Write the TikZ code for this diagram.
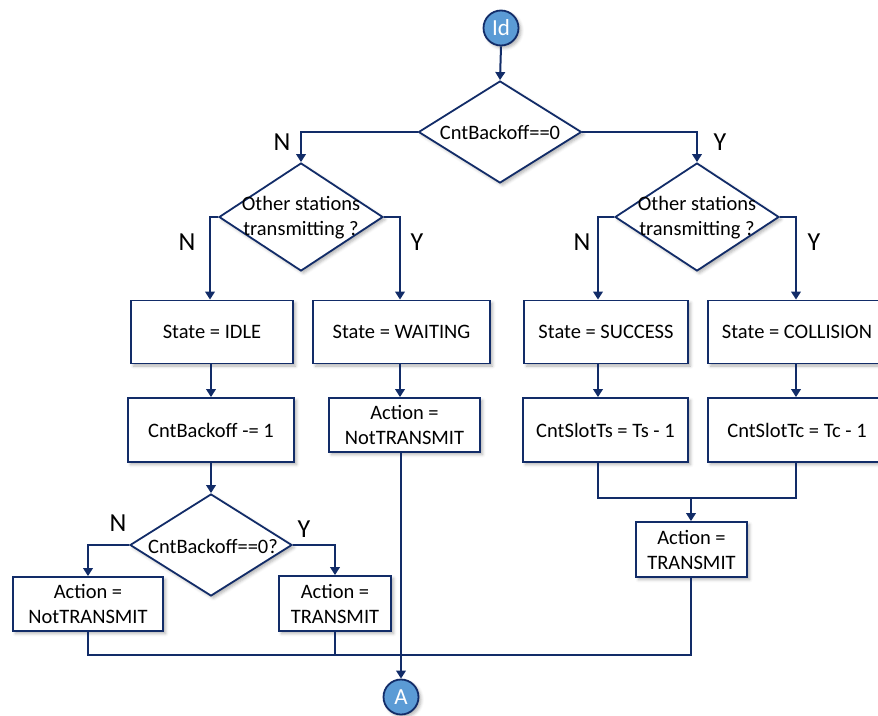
\documentclass[tikz,border=0pt]{standalone}
\usepackage{fontspec}
\setmainfont{Carlito}
\usetikzlibrary{arrows.meta,shapes.geometric,shadows.blur}
\definecolor{navy}{RGB}{18,44,104}
\definecolor{bubble}{RGB}{91,155,213}
\begin{document}
\begin{tikzpicture}[x=1pt,y=-1pt,
  every node/.style={font=\fontsize{20.5}{25}\selectfont},
  soft/.style={blur shadow={shadow xshift=2.5pt,shadow yshift=-2.5pt,shadow blur radius=3pt,shadow opacity=30}},
  box/.style={rectangle,draw=navy,line width=1.8pt,fill=white,inner sep=0pt,align=center,soft},
  dia/.style={diamond,draw=navy,line width=1.8pt,fill=white,inner sep=0pt,soft},
  dtext/.style={align=center,inner sep=0pt},
  term/.style={circle,draw=navy,line width=1.8pt,fill=bubble,text=white,inner sep=0pt,
               minimum size=35pt,font=\fontsize{23}{26}\selectfont,soft},
  yn/.style={font=\fontsize{26}{30}\selectfont,inner sep=0pt},
  conn/.style={draw=navy,line width=2pt},
  arr/.style={conn,-{Triangle[length=8pt,width=9.5pt]}}]
\useasboundingbox (0,0) rectangle (878,715);

% terminals
\node[term] (id) at (501,28) {Id};
\node[term] (A) at (401,697) {A};

% decisions
\node[dia,minimum width=163pt,minimum height=102pt] (d1) at (500,132) {};
\node[dtext] (d1t) at (d1) {CntBackoff==0};
\node[dia,minimum width=164pt,minimum height=108pt] (d2) at (301,217) {};
\node[dtext] (d2t) at (301,218) {Other stations\\transmitting ?};
\node[dia,minimum width=164pt,minimum height=108pt] (d3) at (697,217) {};
\node[dtext] (d3t) at (697,218) {Other stations\\transmitting ?};
\node[dia,minimum width=162pt,minimum height=102pt] (d4) at (211,545) {};
\node[dtext] (d4t) at (213,546) {CntBackoff==0?};

% process boxes
\node[box,minimum width=162pt,minimum height=63pt] (idle) at (212,332) {State = IDLE};
\node[box,minimum width=177pt,minimum height=63pt] (wait) at (401.5,332) {State = WAITING};
\node[box,minimum width=164pt,minimum height=63pt] (succ) at (606,332) {State = SUCCESS};
\node[box,minimum width=178pt,minimum height=63pt] (coll) at (797,332) {State = COLLISION};
\node[box,minimum width=166pt,minimum height=64pt] (dec) at (211,430) {CntBackoff -= 1};
\node[box,minimum width=151pt,minimum height=54pt] (nt) at (404.5,425) {Action =\\NotTRANSMIT};
\node[box,minimum width=165pt,minimum height=64pt] (ts) at (605.5,430) {CntSlotTs = Ts - 1};
\node[box,minimum width=178pt,minimum height=64pt] (tc) at (797,430) {CntSlotTc = Tc - 1};
\node[box,minimum width=150pt,minimum height=54pt] (ntl) at (88,604) {Action =\\NotTRANSMIT};
\node[box,minimum width=112pt,minimum height=55pt] (trl) at (335,603.5) {Action =\\TRANSMIT};
\node[box,minimum width=111pt,minimum height=55pt] (trr) at (691.5,549.5) {Action =\\TRANSMIT};

% branch labels
\node[yn] (n1) at (282,142) {N};
\node[yn] (y1) at (720,142) {Y};
\node[yn] (n2) at (187,242) {N};
\node[yn] (y2) at (417,242) {Y};
\node[yn] (n3) at (582,242) {N};
\node[yn] (y3) at (814,242) {Y};
\node[yn] (n4) at (118,523) {N};
\node[yn] (y4) at (304,529) {Y};

% helper points for the merging lines
\coordinate (colS) at (598,0);
\coordinate (jm) at (691,498);
\coordinate (jb) at (401,655);

% connectors
\draw[arr] (id.south) -- (d1.north);
\draw[arr] (d1.west) -| (d2.north);
\draw[arr] (d1.east) -| (d3.north);
\draw[arr] (d2.west) -| ([xshift=-2pt]idle.north);
\draw[arr] (d2.east) -| ([xshift=-1.5pt]wait.north);
\draw[arr] (d3.west) -| (colS |- succ.north);
\draw[arr] (d3.east) -| ([xshift=-1pt]coll.north);
\draw[arr] ([xshift=-1pt]idle.south) -- ([xshift=-1pt]idle.south |- dec.north);
\draw[arr] ([xshift=-1.5pt]wait.south) -- ([xshift=-1.5pt]wait.south |- nt.north);
\draw[arr] (colS |- succ.south) -- (colS |- ts.north);
\draw[arr] ([xshift=-1pt]coll.south) -- ([xshift=-1pt]coll.south |- tc.north);
\draw[arr] (dec.south) -- (dec.south |- d4.north);
\draw[arr] (d4.west) -| (ntl.north);
\draw[arr] (d4.east) -| (trl.north);
\draw[conn] (colS |- ts.south) |- (jm) -| ([xshift=-1pt]tc.south);
\draw[arr] (jm) -- (jm |- trr.north);
\draw[conn] (ntl.south) |- (jb) -| (jm |- trr.south);
\draw[conn] (trl.south) -- (trl.south |- jb);
\draw[arr] (A |- nt.south) -- (A.north);
\end{tikzpicture}
\end{document}
